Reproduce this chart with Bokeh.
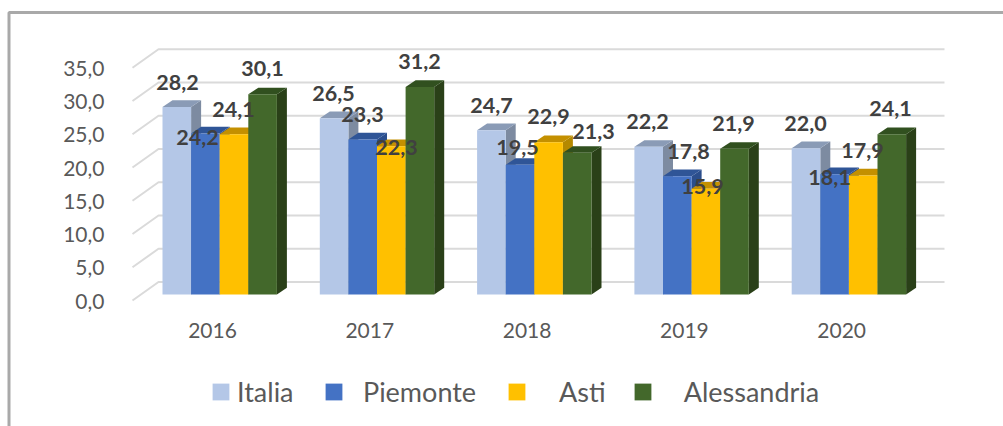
from bokeh.embed import file_html
from bokeh.resources import INLINE
from bokeh.plotting import figure
from bokeh.core.properties import value
from bokeh.models import (ColumnDataSource, FixedTicker, Legend, LegendItem,
                          LinearAxis, Range1d)

years = ["2016", "2017", "2018", "2019", "2020"]
series_names = ["Italia", "Piemonte", "Asti", "Alessandria"]
italia = [28.2, 26.5, 24.7, 22.2, 22.0]
piemonte = [24.2, 23.3, 19.5, 17.8, 18.1]
asti = [24.1, 22.3, 22.9, 15.9, 17.9]
alessandria = [30.1, 31.2, 21.3, 21.9, 24.1]
y_ticks = [0, 5, 10, 15, 20, 25, 30, 35]
y_tick_labels = ["0,0", "5,0", "10,0", "15,0", "20,0", "25,0", "30,0", "35,0"]

# styling / layout
front = ["#B4C7E7", "#4472C4", "#FFC000", "#43682B"]
top = ["#8A9BB6", "#2F5597", "#C49000", "#31501F"]
side = ["#7D8BA1", "#2B4E8C", "#B58900", "#2A4018"]
# label nudges in px, (x right, y down) from the top centre of each bar
label_dx = [[0.7, -0.6, 0.1, -1.2, -0.5], [-7.9, -0.2, -2.5, 11.2, -5.1],
            [-0.5, 5.2, -0.1, -3.4, -0.7], [-0.1, -0.4, 16.3, -1.0, -1.3]]
label_dy = [[-24.5, -24.8, -24.7, -25.4, -24.7], [3.9, -25.1, -17.3, -24.6, 3.4],
            [-24.7, 1.3, -25.7, -2.3, -25.0], [-25.8, -25.5, -21.4, -25.4, -25.7]]

W, H = 1003, 426
PX_X, PX_Y = 157.3, 6.65          # px per category, px per value unit
X0, Y0 = 219.2, 294.0             # canvas position of category 0 / value 0
FONT = "Lato"


def xd(px):   # canvas px -> x data
    return (px - X0) / PX_X


def yd(px):   # canvas px (from top) -> y data
    return (Y0 - px) / PX_Y


p = figure(width=W, height=H, output_backend="svg", toolbar_location=None,
           x_range=Range1d(xd(0), xd(W)), y_range=Range1d(yd(H), yd(0)),
           x_axis_location=None, y_axis_location=None,
           min_border=0, min_border_left=0, min_border_right=0,
           min_border_top=0, min_border_bottom=0)
p.grid.visible = False
p.outline_line_color = None
p.background_fill_color = "white"

# chart-area border (left and top only)
p.line([xd(8.5), xd(8.5), xd(W)], [yd(H), yd(12), yd(12)], line_color="#A9A9A9", line_width=3)

# back wall grid lines + floor depth strokes
back_dy, front_dy = 12.5 / PX_Y, 6.0 / PX_Y
xs_b, ys_b = [], []
for t in y_ticks:
    xs_b.append([xd(132), xd(158), xd(944)])
    ys_b.append([t - front_dy, t + back_dy, t + back_dy])
p.multi_line(xs_b, ys_b, line_color="#DADADA", line_width=2)

# 3-D bars
bar_w = 28.6 / PX_X
dep_x, dep_y = 10.0 / PX_X, 6.7 / PX_Y
columns = [italia, piemonte, asti, alessandria]
renderers = []
for s, vals in enumerate(columns):
    cx = [k + (s - 1.5) * bar_w for k in range(len(years))]
    side_xs = [[c + bar_w / 2, c + bar_w / 2 + dep_x, c + bar_w / 2 + dep_x, c + bar_w / 2] for c in cx]
    side_ys = [[0, dep_y, v + dep_y, v] for v in vals]
    top_xs = [[c - bar_w / 2, c - bar_w / 2 + dep_x, c + bar_w / 2 + dep_x, c + bar_w / 2] for c in cx]
    top_ys = [[v, v + dep_y, v + dep_y, v] for v in vals]
    p.patches(side_xs, side_ys, fill_color=side[s], line_color=None)
    p.patches(top_xs, top_ys, fill_color=top[s], line_color=None)
    renderers.append(p.vbar(x=cx, top=vals, bottom=0, width=bar_w,
                            fill_color=front[s], line_color=None))

# data labels
lx, ly, lt, ldx, ldy = [], [], [], [], []
for s, vals in enumerate(columns):
    for k, v in enumerate(vals):
        lx.append(k + (s - 1.5) * bar_w)
        ly.append(v)
        lt.append(f"{v:.1f}".replace(".", ","))
        ldx.append(label_dx[s][k])
        ldy.append(label_dy[s][k])
p.text(x="x", y="y", text="t", x_offset="dx", y_offset="dy",
       source=ColumnDataSource(dict(x=lx, y=ly, t=lt, dx=ldx, dy=ldy)),
       text_font=value(FONT), text_font_style="bold", text_font_size="21.5px",
       text_color="#404040", text_align="center", text_baseline="middle")

# axes, drawn inside the frame at fixed positions
p.extra_y_ranges["ticks"] = Range1d(yd(H) + 6.7 / PX_Y, yd(0) + 6.7 / PX_Y)
p.extra_x_ranges["cats"] = Range1d(xd(0) + 7.2 / PX_X, xd(W) + 7.2 / PX_X)

yax = LinearAxis(y_range_name="ticks", fixed_location=xd(110),
                 ticker=FixedTicker(ticks=y_ticks),
                 major_label_overrides=dict(zip(y_ticks, y_tick_labels)),
                 axis_line_color=None, major_tick_line_color=None, minor_tick_line_color=None,
                 major_label_standoff=0, major_label_text_font=FONT,
                 major_label_text_font_size="21px", major_label_text_color="#595959")
p.add_layout(yax, "left")

xax = LinearAxis(x_range_name="cats", fixed_location=yd(316),
                 ticker=FixedTicker(ticks=list(range(len(years)))),
                 major_label_overrides=dict(enumerate(years)),
                 axis_line_color=None, major_tick_line_color=None, minor_tick_line_color=None,
                 major_label_standoff=0, major_label_text_font=FONT,
                 major_label_text_font_size="21px", major_label_text_color="#595959")
p.add_layout(xax, "below")

# legend: one block per entry for the uneven spacing of the original
legend_x = [210, 323, 506, 631.7]
legend_gap = [6, 19, 32, 31]
for s, name in enumerate(series_names):
    p.add_layout(Legend(items=[LegendItem(label=name, renderers=[renderers[s]])],
                        location=(legend_x[s], 18), padding=0, margin=0,
                        border_line_color=None, background_fill_alpha=0,
                        glyph_width=21, glyph_height=21, label_standoff=legend_gap[s],
                        label_text_font=FONT, label_text_font_size="27px",
                        label_text_color="#595959", label_height=21), "center")

open("out.html", "w").write(file_html(p, INLINE))
